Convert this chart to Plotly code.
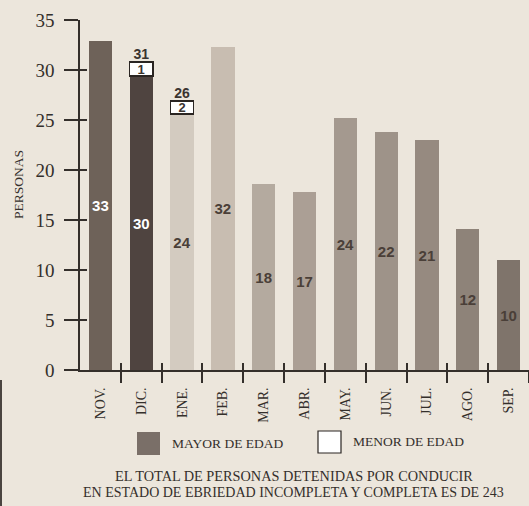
import plotly.graph_objects as go

# ---- data ----
months = ["NOV.", "DIC.", "ENE.", "FEB.", "MAR.", "ABR.", "MAY.", "JUN.", "JUL.", "AGO.", "SEP."]
mayor_label = ["33", "30", "24", "32", "18", "17", "24", "22", "21", "12", "10"]
menor_label = ["", "1", "2", "", "", "", "", "", "", "", ""]
total_label = ["", "31", "26", "", "", "", "", "", "", "", ""]
# bar heights as drawn in the graphic
mayor_h = [32.9, 29.4, 25.6, 32.3, 18.6, 17.8, 25.2, 23.8, 23.0, 14.1, 11.0]
menor_h = [None, 1.4, 1.3, None, None, None, None, None, None, None, None]
y_ticks = [0, 5, 10, 15, 20, 25, 30, 35]

bar_colors = ["#6e6259", "#4f4440", "#d3cbc0", "#c8bdb1", "#b4aa9f", "#ab9f95",
              "#a4998f", "#9e9389", "#968a80", "#8e8379", "#7f746b"]
label_colors = ["#ffffff", "#ffffff"] + ["#4a3f38"] * 9

INK = "#342f2b"
BG = "#ece6dc"
SERIF = "Liberation Serif"
SANS = "Liberation Sans"

W, H = 529, 506
ML, MR, MT, MB = 80, 0, 20, 136
PW, PH = W - ML - MR, H - MT - MB


def px(x):
    return (x - ML) / PW


def py(y):
    return (H - MB - y) / PH


idx = list(range(len(months)))
bounds = [i + 0.5 for i in idx]

fig = go.Figure()
fig.add_trace(go.Bar(
    x=idx, y=mayor_h, width=0.57,
    marker=dict(color=bar_colors, line=dict(width=0)),
    text=mayor_label, textposition="inside", insidetextanchor="middle",
    constraintext="none", textangle=0,
    textfont=dict(family=SANS, size=15, color=label_colors, weight="bold"),
    showlegend=False, hoverinfo="skip",
))
fig.add_trace(go.Bar(
    x=idx, y=menor_h, width=0.57,
    marker=dict(color="#ffffff", line=dict(width=1.5, color="#2a2522")),
    text=menor_label, textposition="inside", insidetextanchor="middle",
    constraintext="none", textangle=0,
    textfont=dict(family=SANS, size=13, color="#3a3430", weight="bold"),
    showlegend=False, hoverinfo="skip",
))
totals = [m + (n or 0) if n else None for m, n in zip(mayor_h, menor_h)]
fig.add_trace(go.Scatter(
    x=idx, y=totals, mode="text", text=total_label, textposition="top center",
    textfont=dict(family=SANS, size=14, color="#3a3430", weight="bold"),
    showlegend=False, hoverinfo="skip",
))
# helper traces for overlay axes
fig.add_trace(go.Scatter(x=[None], y=[None], xaxis="x2", yaxis="y", showlegend=False))
fig.add_trace(go.Scatter(x=[None], y=[None], xaxis="x3", yaxis="y", showlegend=False))
fig.add_trace(go.Scatter(x=[None], y=[None], xaxis="x", yaxis="y2", showlegend=False))

xr = [-0.5, 10.5]
yr = [0, 35]
fig.update_layout(
    width=W, height=H,
    margin=dict(l=ML, r=MR, t=MT, b=MB, pad=0),
    paper_bgcolor=BG, plot_bgcolor=BG,
    barmode="stack", bargap=0.43,
    xaxis=dict(range=xr, tickmode="array", tickvals=idx, ticktext=months,
               tickangle=-90, ticks="", ticklabelstandoff=10,
               tickfont=dict(family=SERIF, size=14, color=INK),
               showline=True, linecolor=INK, linewidth=1.6,
               showgrid=False, zeroline=False, fixedrange=True),
    xaxis2=dict(range=xr, overlaying="x", anchor="y", side="bottom",
                tickmode="array", tickvals=bounds, ticks="outside",
                ticklen=12, tickwidth=1.5, tickcolor=INK,
                showticklabels=False, showline=False, showgrid=False, zeroline=False),
    xaxis3=dict(range=xr, overlaying="x", anchor="y", side="bottom",
                tickmode="array", tickvals=bounds, ticks="inside",
                ticklen=7, tickwidth=1.5, tickcolor=INK,
                showticklabels=False, showline=False, showgrid=False, zeroline=False),
    yaxis=dict(range=yr, tickmode="array", tickvals=y_ticks, ticks="outside",
               ticklen=14, tickwidth=1.5, tickcolor=INK, ticklabelstandoff=6,
               tickfont=dict(family=SERIF, size=19, color=INK),
               showline=True, linecolor=INK, linewidth=1.6,
               showgrid=False, zeroline=False, fixedrange=True),
    yaxis2=dict(range=yr, overlaying="y", anchor="x", side="left",
                tickmode="array", tickvals=y_ticks, ticks="inside",
                ticklen=7, tickwidth=1.5, tickcolor=INK,
                showticklabels=False, showline=False, showgrid=False, zeroline=False),
)

fig.add_annotation(text="PERSONAS", xref="paper", yref="paper", x=px(18), y=py(185),
                   xanchor="center", yanchor="middle",
                   textangle=-90, showarrow=False,
                   font=dict(family=SERIF, size=13.5, color=INK))

# legend keys
fig.add_shape(type="rect", xref="paper", yref="paper",
              x0=px(137), x1=px(160), y0=py(455), y1=py(432),
              fillcolor="#7a6f68", line=dict(width=0))
fig.add_shape(type="rect", xref="paper", yref="paper",
              x0=px(318), x1=px(341), y0=py(453), y1=py(431),
              fillcolor="#ffffff", line=dict(width=1.2, color="#2a2522"))
fig.add_annotation(text="MAYOR DE EDAD", xref="paper", yref="paper", x=px(170), y=py(443),
                   xanchor="left", yanchor="middle", showarrow=False,
                   font=dict(family=SERIF, size=13.5, color=INK))
fig.add_annotation(text="MENOR DE EDAD", xref="paper", yref="paper", x=px(351), y=py(441),
                   xanchor="left", yanchor="middle", showarrow=False,
                   font=dict(family=SERIF, size=13.5, color=INK))

fig.add_annotation(text="EL TOTAL DE PERSONAS DETENIDAS POR CONDUCIR", xref="paper", yref="paper",
                   x=px(294), y=py(476), xanchor="center", yanchor="middle", showarrow=False,
                   font=dict(family=SERIF, size=14.3, color=INK))
fig.add_annotation(text="EN ESTADO DE EBRIEDAD INCOMPLETA Y COMPLETA ES DE 243", xref="paper", yref="paper",
                   x=px(293), y=py(492), xanchor="center", yanchor="middle", showarrow=False,
                   font=dict(family=SERIF, size=14, color=INK))

# scan edge at left
fig.add_shape(type="line", xref="paper", yref="paper", x0=px(1), x1=px(1), y0=py(380), y1=py(506),
              line=dict(width=2, color="#4a4440"))

fig.write_html("out.html", config={"displayModeBar": False},
               post_script="document.body.style.margin='0';document.body.style.background='#ece6dc';")
